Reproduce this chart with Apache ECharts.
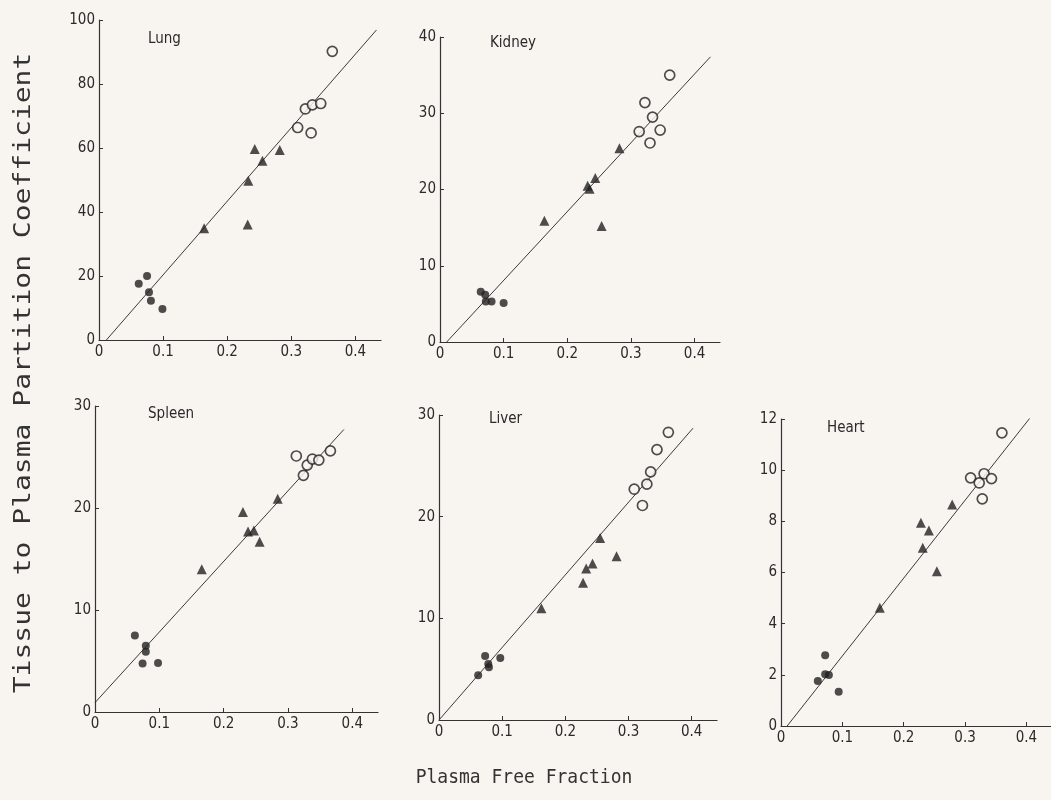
<!DOCTYPE html>
<html><head><meta charset="utf-8">
<script src="https://cdn.jsdelivr.net/npm/echarts@6/dist/echarts.min.js"></script>
<style>html,body{margin:0;padding:0;background:#f8f5f1;} #c{width:1051px;height:800px;}</style>
</head><body><div id="c"></div>
<script>
// ---------- data ----------
const panelNames = ['Lung', 'Kidney', 'Spleen', 'Liver', 'Heart'];
const yMax = [100, 40, 30, 30, 12];
const yStep = [20, 10, 10, 10, 2];
const xTicks = [0, 0.1, 0.2, 0.3, 0.4];
const xMax = 0.44;
const xTitle = 'Plasma Free Fraction';
const yTitle = 'Tissue to Plasma Partition Coefficient';

const lungFilled = [[0.062,17.6],[0.075,20.0],[0.078,14.9],[0.081,12.3],[0.099,9.7]];
const lungTri    = [[0.164,34.9],[0.232,36.1],[0.233,49.8],[0.243,59.7],[0.255,56.0],[0.282,59.4]];
const lungOpen   = [[0.310,66.4],[0.322,72.2],[0.331,64.7],[0.333,73.5],[0.346,73.9],[0.364,90.2]];
const lungLine   = [[0.0115,0],[0.433,96.9]];

const kidneyFilled = [[0.064,6.6],[0.071,6.2],[0.072,5.3],[0.081,5.3],[0.100,5.1]];
const kidneyTri    = [[0.164,15.9],[0.232,20.5],[0.235,20.1],[0.244,21.5],[0.254,15.2],[0.282,25.4]];
const kidneyOpen   = [[0.313,27.6],[0.322,31.4],[0.330,26.1],[0.334,29.5],[0.346,27.8],[0.361,35.0]];
const kidneyLine   = [[0.0105,0],[0.425,37.4]];

const spleenFilled = [[0.062,7.5],[0.079,6.5],[0.079,5.9],[0.074,4.75],[0.098,4.8]];
const spleenTri    = [[0.166,14.0],[0.230,19.6],[0.238,17.7],[0.247,17.8],[0.256,16.7],[0.284,20.9]];
const spleenOpen   = [[0.313,25.1],[0.324,23.2],[0.330,24.2],[0.338,24.8],[0.348,24.7],[0.366,25.6]];
const spleenLine   = [[0,0.92],[0.387,27.7]];

const liverFilled = [[0.062,4.4],[0.073,6.3],[0.078,5.5],[0.079,5.2],[0.097,6.1]];
const liverTri    = [[0.162,11.0],[0.228,13.5],[0.233,14.9],[0.243,15.4],[0.255,17.9],[0.281,16.1]];
const liverOpen   = [[0.309,22.7],[0.322,21.1],[0.329,23.2],[0.335,24.4],[0.345,26.6],[0.363,28.3]];
const liverLine   = [[0,0],[0.402,28.7]];

const heartFilled = [[0.060,1.76],[0.072,2.77],[0.072,2.02],[0.078,1.99],[0.094,1.34]];
const heartTri    = [[0.161,4.62],[0.228,7.94],[0.231,6.97],[0.241,7.64],[0.254,6.05],[0.279,8.66]];
const heartOpen   = [[0.309,9.70],[0.323,9.50],[0.328,8.88],[0.331,9.86],[0.343,9.67],[0.360,11.46]];
const heartLine   = [[0.010,0],[0.409,12.14]];

const filledSets = [lungFilled, kidneyFilled, spleenFilled, liverFilled, heartFilled];
const triSets    = [lungTri, kidneyTri, spleenTri, liverTri, heartTri];
const openSets   = [lungOpen, kidneyOpen, spleenOpen, liverOpen, heartOpen];
const lineSets   = [lungLine, kidneyLine, spleenLine, liverLine, heartLine];

// ---------- layout / style ----------
const grids = [
  {left: 99,  top: 20,  width: 282, height: 320},
  {left: 440, top: 37,  width: 280, height: 305},
  {left: 95,  top: 406, width: 283, height: 306},
  {left: 439, top: 415, width: 278, height: 305},
  {left: 781, top: 419, width: 276, height: 307}
];
const titlePos = [[148,32],[490,36],[148,407],[489,412],[827,421]];
const INK = '#222';
const BG = '#f8f5f1';
const FONT = "'Liberation Sans Narrow', 'DejaVu Sans Condensed', 'Roboto', sans-serif";
const MONO = "'DejaVu Sans Mono', 'Liberation Mono', monospace";

const chart = echarts.init(document.getElementById('c'), null, {renderer: 'canvas'});

const xAxes = [], yAxes = [], series = [], graphics = [];
grids.forEach((g, i) => {
  const axisLine = {show: true, onZero: false, lineStyle: {color: '#333', width: 1.2}};
  xAxes.push({
    gridIndex: i, type: 'value', min: 0, max: xMax,
    axisLine,
    axisTick: {show: true, inside: true, length: 4, customValues: xTicks, lineStyle: {color: '#333'}},
    axisLabel: {show: true, customValues: xTicks, margin: 5, color: '#2a2a2a', fontFamily: FONT, fontSize: 15,
      formatter: v => (v === 0 ? '0' : v.toFixed(1))},
    splitLine: {show: false}
  });
  yAxes.push({
    gridIndex: i, type: 'value', min: 0, max: yMax[i], interval: yStep[i],
    axisLine,
    axisTick: {show: true, inside: true, length: 4, lineStyle: {color: '#333'}},
    axisLabel: {show: true, margin: 4, color: '#2a2a2a', fontFamily: FONT, fontSize: 15},
    splitLine: {show: false}
  });
  series.push({
    type: 'line', xAxisIndex: i, yAxisIndex: i, data: lineSets[i], symbol: 'none',
    lineStyle: {color: '#3a3a3a', width: 1}, silent: true, animation: false, z: 1
  });
  series.push({
    type: 'scatter', xAxisIndex: i, yAxisIndex: i, data: filledSets[i], symbol: 'circle', symbolSize: 8,
    itemStyle: {color: INK}, animation: false, z: 3
  });
  series.push({
    type: 'scatter', xAxisIndex: i, yAxisIndex: i, data: triSets[i], symbol: 'triangle', symbolSize: 10,
    itemStyle: {color: INK}, animation: false, z: 3
  });
  series.push({
    type: 'scatter', xAxisIndex: i, yAxisIndex: i, data: openSets[i], symbol: 'circle', symbolSize: 10,
    itemStyle: {color: BG, borderColor: INK, borderWidth: 1.7}, animation: false, z: 3
  });
  graphics.push({
    type: 'text', left: titlePos[i][0], top: titlePos[i][1],
    style: {text: panelNames[i], fill: '#2a2a2a', font: "15px " + FONT}
  });
});

graphics.push({
  type: 'text', x: 24, y: 373, rotation: Math.PI / 2, scaleY: 0.8,
  style: {text: yTitle, fill: '#333', font: "28px " + MONO, align: 'center', verticalAlign: 'middle'}
});
graphics.push({
  type: 'text', x: 524, y: 778, scaleY: 1.1,
  style: {text: xTitle, fill: '#333', font: "18px " + MONO, align: 'center', verticalAlign: 'middle'}
});

chart.setOption({
  backgroundColor: BG,
  animation: false,
  grid: grids.map(g => Object.assign({containLabel: false}, g)),
  xAxis: xAxes,
  yAxis: yAxes,
  series,
  graphic: graphics
});
</script>
</body></html>
